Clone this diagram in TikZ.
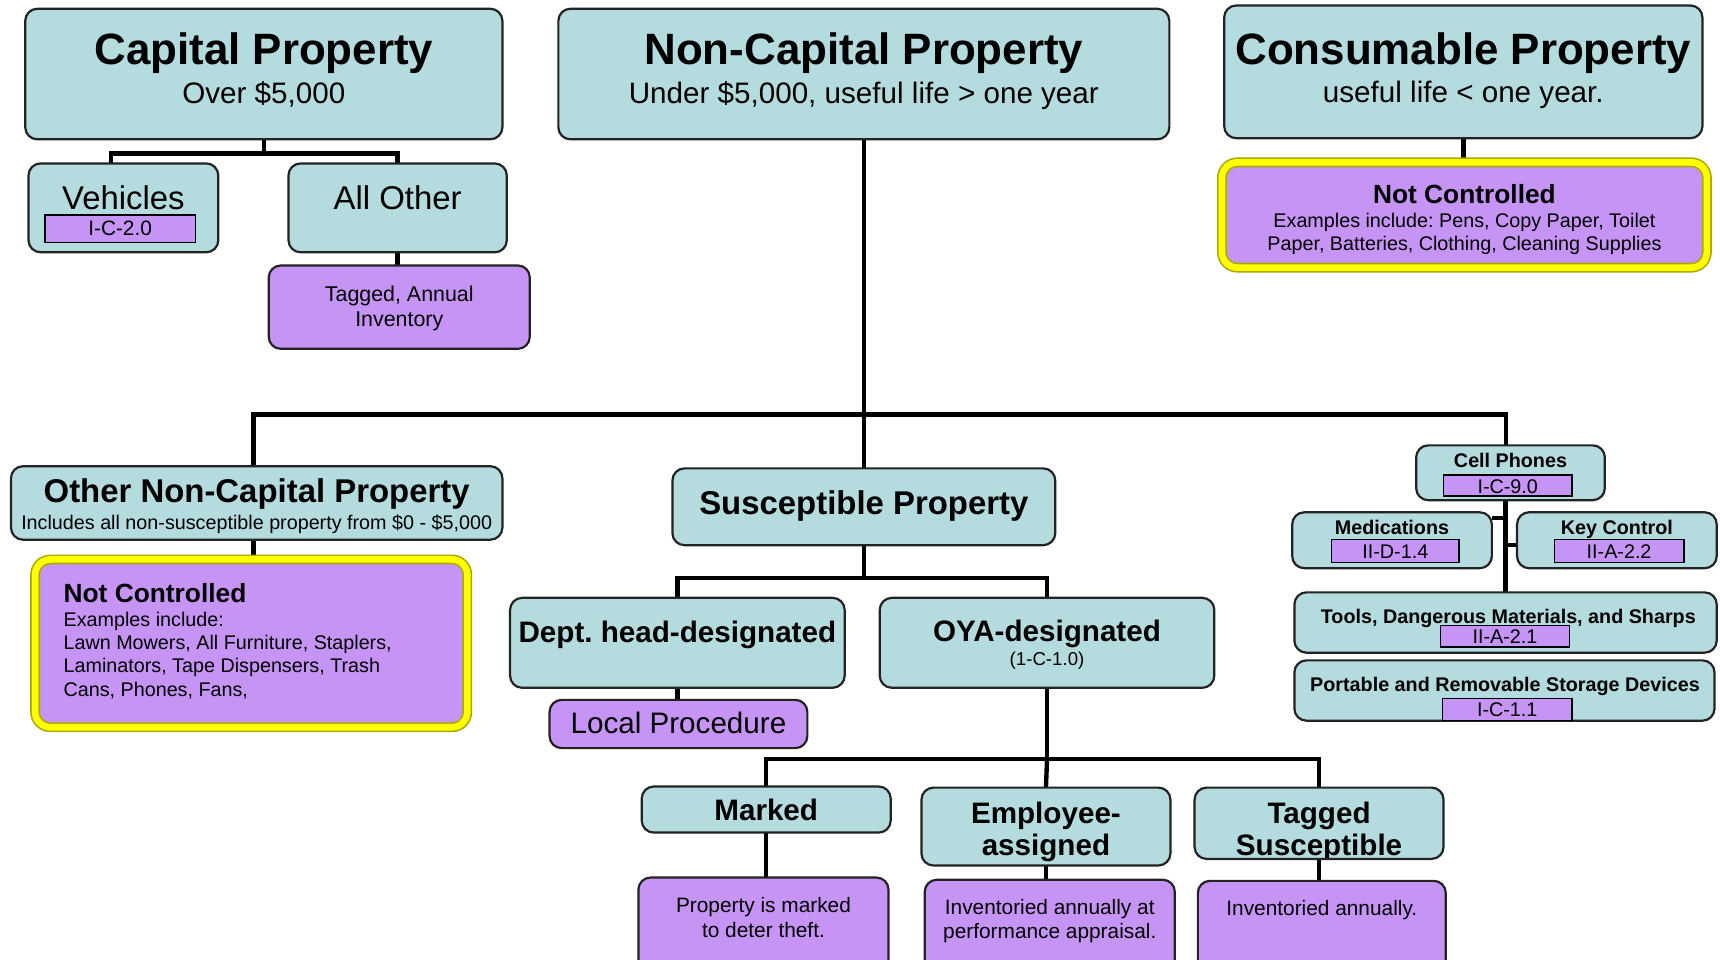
\documentclass[tikz,border=0pt]{standalone}
\usepackage{fontspec}
\setmainfont{Liberation Sans}
\usetikzlibrary{backgrounds}
\definecolor{tealc}{RGB}{180,219,222}
\definecolor{purpc}{RGB}{197,148,245}
\definecolor{yellc}{RGB}{255,255,0}
\definecolor{yelldark}{RGB}{170,170,0}
\definecolor{bordc}{RGB}{35,35,35}
\newcommand\myfs[1]{\fontsize{#1}{#1}\selectfont}
\frenchspacing
\tikzset{
  bx/.style={draw=bordc, line width=2pt, rounded corners=11pt, inner sep=0pt, outer sep=0pt, anchor=north west},
  tealbx/.style={bx, fill=tealc},
  purpbx/.style={bx, fill=purpc},
  yelbx/.style={bx, fill=purpc, draw=yelldark, line width=9pt, rounded corners=14pt, postaction={draw=yellc, line width=6pt}},
  codebx/.style={draw=black, line width=1.3pt, fill=purpc, inner sep=0pt, outer sep=0pt, anchor=north west},
  conn/.style={line width=4pt, draw=black},
  txt/.style={anchor=base, inner sep=0pt, outer sep=0pt},
  txtl/.style={anchor=base west, inner sep=0pt, outer sep=0pt},
}
\begin{document}
\begin{tikzpicture}[x=1pt,y=-1pt]
\useasboundingbox (0,0) rectangle (1568,875);
% ---------- boxes ----------
\node[tealbx, minimum width=435pt, minimum height=119pt] (cap) at (23,8) {};
\node[tealbx, minimum width=557pt, minimum height=119pt] (noncap) at (509,8) {};
\node[tealbx, minimum width=436pt, minimum height=121pt] (cons) at (1116,5) {};
\node[yelbx, minimum width=442pt, minimum height=96pt] (nca) at (1114,148) {};
\node[tealbx, minimum width=173pt, minimum height=81pt] (veh) at (26,149) {};
\node[tealbx, minimum width=199pt, minimum height=81pt] (allo) at (263,149) {};
\node[purpbx, minimum width=238pt, minimum height=76pt] (tagann) at (245,242) {};
\node[tealbx, minimum width=448pt, minimum height=67pt] (onc) at (10,425) {};
\node[yelbx, minimum width=394pt, minimum height=153pt] (ncb) at (32,510) {};
\node[tealbx, minimum width=349pt, minimum height=70pt] (susc) at (613,427) {};
\node[tealbx, minimum width=305pt, minimum height=82pt] (dept) at (465,545) {};
\node[tealbx, minimum width=305pt, minimum height=82pt] (oya) at (802,545) {};
\node[purpbx, minimum width=235pt, minimum height=44pt] (local) at (501,638) {};
\node[tealbx, minimum width=227pt, minimum height=42pt] (marked) at (585,717) {};
\node[tealbx, minimum width=227pt, minimum height=71pt] (emp) at (840,718) {};
\node[tealbx, minimum width=227pt, minimum height=65pt] (tagsus) at (1089,718) {};
\node[purpbx, minimum width=228pt, minimum height=100pt] (pm) at (582,800) {};
\node[purpbx, minimum width=228pt, minimum height=100pt] (inva) at (843,802) {};
\node[purpbx, minimum width=226pt, minimum height=100pt] (invb) at (1092,803) {};
\node[tealbx, minimum width=172pt, minimum height=50pt] (cell) at (1291,406) {};
\node[tealbx, minimum width=182pt, minimum height=51pt] (med) at (1178,467) {};
\node[tealbx, minimum width=182pt, minimum height=51pt] (key) at (1383,467) {};
\node[tealbx, minimum width=385pt, minimum height=55pt] (tools) at (1180,540) {};
\node[tealbx, minimum width=383pt, minimum height=55pt] (port) at (1180,602) {};
% ---------- texts ----------
\node[txt, font={\myfs{40}\bfseries}] (capT) at (240.5,59) {Capital Property};
\node[txt, font={\myfs{27}}] (capS) at (240.5,94) {Over \$5,000};
\node[txt, font={\myfs{40}\bfseries}] (noncapT) at (787.5,59) {Non-Capital Property};
\node[txt, font={\myfs{27}}] (noncapS) at (787.5,94) {Under \$5,000, useful life > one year};
\node[txt, font={\myfs{40}\bfseries}] (consT) at (1334,59) {Consumable Property};
\node[txt, font={\myfs{27}}] (consS) at (1334,93) {useful life < one year.};
\node[txt, font={\myfs{24}\bfseries}] (ncaT) at (1335,185.6) {Not Controlled};
\node[txt, font={\myfs{18}}] (ncaA) at (1335,207.5) {Examples include: Pens, Copy Paper, Toilet};
\node[txt, font={\myfs{18}}] (ncaB) at (1335,228.5) {Paper, Batteries, Clothing, Cleaning Supplies};
\node[txt, font={\myfs{30}}] (vehT) at (112.5,191) {Vehicles};
\node[txt, font={\myfs{30}}] (alloT) at (362.5,191) {All Other};
\node[txt, font={\myfs{19.5}}] (tagannA) at (364,275) {Tagged, Annual};
\node[txt, font={\myfs{19.5}}] (tagannB) at (364,298) {Inventory};
\node[txt, font={\myfs{30}\bfseries}] (oncT) at (234,458) {Other Non-Capital Property};
\node[txt, font={\myfs{18}}] (oncS) at (234,482.5) {Includes all non-susceptible property from \$0 - \$5,000};
\node[txtl, font={\myfs{24}\bfseries}] (ncbT) at (58,549.6) {Not Controlled};
\node[txtl, font={\myfs{18}}] (ncbA) at (58,571.5) {Examples include:};
\node[txtl, font={\myfs{18}}] (ncbB) at (58,592.5) {Lawn Mowers, All Furniture, Staplers,};
\node[txtl, font={\myfs{18}}] (ncbC) at (58,613.5) {Laminators, Tape Dispensers, Trash};
\node[txtl, font={\myfs{18}}] (ncbD) at (58,634.5) {Cans, Phones, Fans,};
\node[txt, font={\myfs{30}\bfseries}] (suscT) at (787.5,469) {Susceptible Property};
\node[txt, font={\myfs{27}\bfseries}] (deptT) at (617.5,585.7) {Dept. head-designated};
\node[txt, font={\myfs{27}\bfseries}] (oyaT) at (954.5,584.7) {OYA-designated};
\node[txt, font={\myfs{17}}] (oyaS) at (954.5,607) {(1-C-1.0)};
\node[txt, font={\myfs{27}}] (localT) at (618.5,668.7) {Local Procedure};
\node[txt, font={\myfs{27}\bfseries}] (markedT) at (698.5,747.7) {Marked};
\node[txt, font={\myfs{27}\bfseries}] (empA) at (953.5,750.7) {Employee-};
\node[txt, font={\myfs{27}\bfseries}] (empB) at (953.5,779.7) {assigned};
\node[txt, font={\myfs{27}\bfseries}] (tagsusA) at (1202.5,750.7) {Tagged};
\begin{scope}
\clip (tagsus.north west) rectangle ([yshift=1pt]tagsus.south east);
\node[txt, font={\myfs{27}\bfseries}] (tagsusB) at (1202.5,779.7) {Susceptible};
\end{scope}
\node[txt, font={\myfs{19}}] (pmA) at (696,832) {Property is marked};
\node[txt, font={\myfs{19}}] (pmB) at (696,855) {to deter theft.};
\node[txt, font={\myfs{19}}] (invaA) at (957,834) {Inventoried annually at};
\node[txt, font={\myfs{19}}] (invaB) at (957,856) {performance appraisal.};
\node[txt, font={\myfs{19}}] (invbA) at (1205,835) {Inventoried annually.};
\node[txt, font={\myfs{18}\bfseries}] (cellT) at (1377,426.5) {Cell Phones};
\node[txt, font={\myfs{18}\bfseries}] (medT) at (1269,487.5) {Medications};
\node[txt, font={\myfs{18}\bfseries}] (keyT) at (1474,487.5) {Key Control};
\node[txt, font={\myfs{18}\bfseries}] (toolsT) at (1375,568.5) {Tools, Dangerous Materials, and Sharps};
\node[txt, font={\myfs{18}\bfseries}] (portT) at (1372,630.5) {Portable and Removable Storage Devices};
% ---------- code boxes ----------
\node[codebx, minimum width=137pt, minimum height=25pt] (cveh) at (41,196) {};
\node[txt, font={\myfs{19}}] (cvehT) at (109.5,214.5) {I-C-2.0};
\node[codebx, minimum width=117pt, minimum height=19pt] (ccell) at (1316,433) {};
\node[txt, font={\myfs{18}}] (ccellT) at (1374.5,450) {I-C-9.0};
\node[codebx, minimum width=116pt, minimum height=21pt] (cmed) at (1214,492) {};
\node[txt, font={\myfs{18}}] (cmedT) at (1272,509.5) {II-D-1.4};
\node[codebx, minimum width=118pt, minimum height=21pt] (ckey) at (1417,492) {};
\node[txt, font={\myfs{18}}] (ckeyT) at (1476,509.5) {II-A-2.2};
\node[codebx, minimum width=118pt, minimum height=20pt] (ctools) at (1313,570) {};
\node[txt, font={\myfs{18}}] (ctoolsT) at (1372,586.5) {II-A-2.1};
\node[codebx, minimum width=118pt, minimum height=20pt] (cport) at (1315,637) {};
\node[txt, font={\myfs{18}}] (cportT) at (1374,653.5) {I-C-1.1};
% ---------- connectors ----------
\begin{pgfonlayer}{background}
\fill[white] (0,0) rectangle (1568,875);
\coordinate (capbus) at (240.5,140);
\draw[conn] (cap.south) -- (capbus);
\draw[conn] ([xshift=-11.5pt]veh.north) |- (capbus) -| (allo.north);
\draw[conn] (allo.south) -- (allo.south |- tagann.north);
\coordinate (bus) at (787.5,378);
\draw[conn] (noncap.south) -- (bus);
\draw[conn] ([xshift=-3pt]onc.north) |- (bus) -| ([xshift=-4pt]cell.north);
\draw[conn] (bus) -- (susc.north);
\draw[conn] ([xshift=-3pt]onc.south) -- ([xshift=-3pt]onc.south |- ncb.north);
\draw[conn] (cons.south) -- (cons.south |- nca.north);
\coordinate (sbus) at (787.5,527);
\draw[conn] (susc.south) -- (sbus);
\draw[conn] (dept.north) |- (sbus) -| (oya.north);
\draw[conn] (dept.south) -- (dept.south |- local.north);
\coordinate (obus) at (954.5,692);
\draw[conn] (oya.south) -- (obus);
\draw[conn] (marked.north) |- (obus) -| (tagsus.north);
\draw[conn] (obus) -- (emp.north);
\draw[conn] (marked.south) -- (marked.south |- pm.north);
\draw[conn] (emp.south) -- (emp.south |- inva.north);
\draw[conn] (tagsus.south) -- (tagsus.south |- invb.north);
\draw[conn] (tools.north) -- (tools.north |- cell.south);
\draw[conn] ([yshift=20.5pt]med.east) -| (tools.north);
\draw[conn] ([yshift=-4.5pt]key.west) -| (tools.north);
\end{pgfonlayer}
\end{tikzpicture}
\end{document}
